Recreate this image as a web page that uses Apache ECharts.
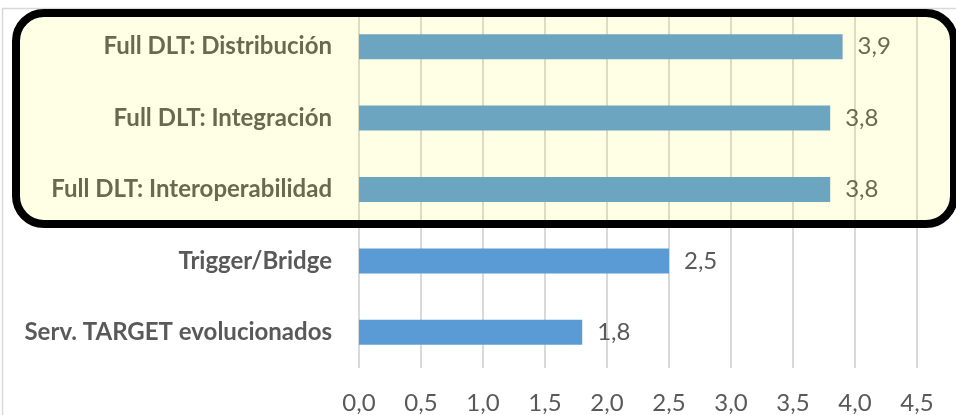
<!DOCTYPE html>
<html>
<head>
<meta charset="utf-8">
<script src="https://cdn.jsdelivr.net/npm/echarts@6/dist/echarts.min.js"></script>
<style>
  html, body { margin: 0; padding: 0; background: #fff; }
  #chart { width: 956px; height: 415px; }
</style>
</head>
<body>
<div id="chart"></div>
<script>
const categories = [
  "Full DLT: Distribución",
  "Full DLT: Integración",
  "Full DLT: Interoperabilidad",
  "Trigger/Bridge",
  "Serv. TARGET evolucionados",
];
const values = [3.9, 3.8, 3.8, 2.5, 1.8];
const xTicks = { min: 0, max: 4.5, interval: 0.5 };

const fmt = (v) => Number(v).toFixed(1).replace(".", ",");
const textColor = "#595959";
const font = "Lato, 'Open Sans', sans-serif";

const chart = echarts.init(document.getElementById("chart"));
chart.setOption({
  animation: false,
  grid: { left: 359, right: 39, top: 11, bottom: 47 },
  xAxis: {
    type: "value",
    min: xTicks.min,
    max: xTicks.max,
    interval: xTicks.interval,
    axisLine: { show: false },
    axisTick: { show: false },
    splitLine: { show: true, lineStyle: { color: "#D9D9D9", width: 2 } },
    axisLabel: {
      formatter: fmt,
      color: textColor,
      fontFamily: font,
      fontSize: 24,
      margin: 23,
    },
  },
  yAxis: {
    type: "category",
    inverse: true,
    data: categories,
    axisLine: { show: false },
    axisTick: { show: false },
    axisLabel: {
      color: textColor,
      fontFamily: font,
      fontWeight: "bold",
      fontSize: 24,
      margin: 27,
    },
  },
  series: [
    {
      type: "bar",
      data: values,
      barWidth: 25,
      itemStyle: { color: "#5B9BD5" },
      label: {
        show: true,
        position: "right",
        distance: 15,
        formatter: (p) => fmt(p.value),
        color: textColor,
        fontFamily: font,
        fontSize: 24,
      },
    },
  ],
  graphic: [
    // chart frame
    {
      type: "rect",
      z: 0,
      silent: true,
      shape: { x: 2.5, y: 8.5, width: 970, height: 420 },
      style: { fill: "none", stroke: "#D9D9D9", lineWidth: 1.5 },
    },
    // highlight box over the Full DLT rows
    {
      type: "rect",
      z: 100,
      silent: true,
      shape: { x: 16, y: 13, width: 938, height: 211, r: 28 },
      style: { fill: "rgba(255,255,0,0.1)", stroke: "#000", lineWidth: 8 },
    },
  ],
});
window.addEventListener("resize", () => chart.resize());
</script>
</body>
</html>
